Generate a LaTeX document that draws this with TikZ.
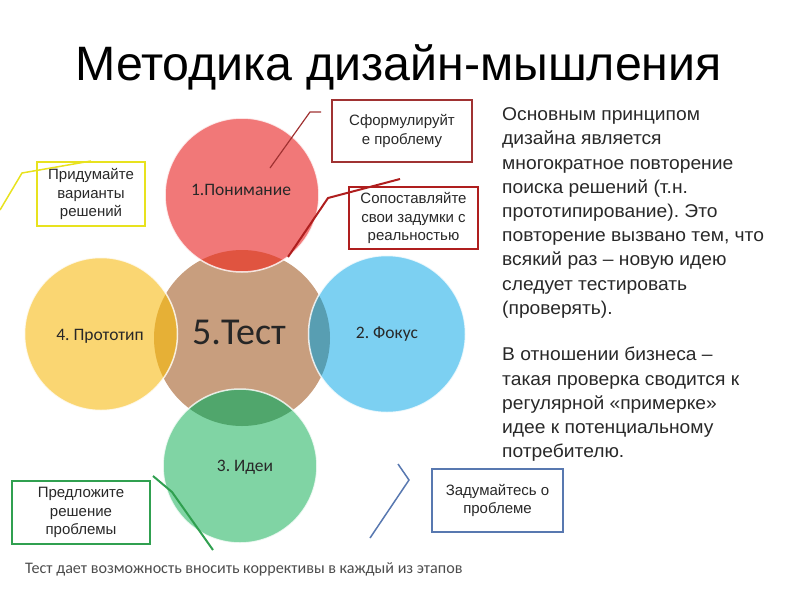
\documentclass[tikz,border=0pt]{standalone}
\usepackage{fontspec}
\setmainfont{Liberation Sans}
\newfontfamily\calib{Carlito}
\newfontfamily\widesans[FakeStretch=1.04]{Liberation Sans}
\frenchspacing
\definecolor{cred}{RGB}{241,120,120}
\definecolor{cbrown}{RGB}{200,158,126}
\definecolor{cblue}{RGB}{124,208,242}
\definecolor{cyellow}{RGB}{250,214,114}
\definecolor{cgreen}{RGB}{128,212,164}
\definecolor{ored}{RGB}{224,84,64}
\definecolor{oblue}{RGB}{88,158,178}
\definecolor{oyellow}{RGB}{230,176,54}
\definecolor{ogreen}{RGB}{80,166,108}
\definecolor{lyellow}{RGB}{232,226,30}
\definecolor{lred}{RGB}{160,50,50}
\definecolor{lred2}{RGB}{175,30,30}
\definecolor{lgreen}{RGB}{48,160,80}
\definecolor{lblue}{RGB}{88,120,176}
\definecolor{txt}{RGB}{40,40,40}
\begin{document}
\begin{tikzpicture}[x=1pt,y=-1pt,
  circ/.style={circle, inner sep=0pt, minimum size=#1, text=txt,
    font=\calib\fontsize{17.5}{21}\selectfont},
  rim/.style={draw=white, draw opacity=0.8, line width=1.5pt},
  note/.style={draw, align=center, inner sep=0pt, text=txt,
    font=\fontsize{15}{18.5}\selectfont},
  link/.style={line width=1.5pt}
]
\useasboundingbox (0,0) rectangle (800,600);
% title
\node[anchor=base, font=\fontsize{48.3}{56}\selectfont] (title) at (398.5,80) {Методика дизайн-мышления};
% circles
\node[circ=176pt, fill=cbrown] (c5) at (242,338) {};
\node[circ=154pt, fill=cred] (c1) at (242,195) {};
\node[circ=157pt, fill=cblue] (c2) at (387,334) {};
\node[circ=153pt, fill=cyellow] (c4) at (101,334) {};
\node[circ=154pt, fill=cgreen] (c3) at (240,466) {};
\begin{scope}
  \clip (c5.center) circle (88pt);
  \fill[ored] (c1.center) circle (77pt);
  \fill[oblue] (c2.center) circle (78.5pt);
  \fill[oyellow] (c4.center) circle (76.5pt);
  \fill[ogreen] (c3.center) circle (77pt);
\end{scope}
\draw[rim] (c1.center) circle (77pt);
\draw[rim] (c2.center) circle (78.5pt);
\draw[rim] (c4.center) circle (76.5pt);
\draw[rim] (c3.center) circle (77pt);
% circle labels
\node[text=txt, font=\calib\fontsize{17.5}{21}\selectfont] (l1) at (241,190) {1.Понимание};
\node[text=txt, font=\calib\fontsize{17.5}{21}\selectfont] (l2) at (387,334) {2. Фокус};
\node[text=txt, font=\calib\fontsize{17.5}{21}\selectfont] (l4) at (100,336) {4. Прототип};
\node[text=txt, font=\calib\fontsize{17.5}{21}\selectfont] (l3) at (245,467) {3. Идеи};
\node[text=black!85, font=\calib\fontsize{38}{44}\selectfont] (l5) at (239,332) {5.Тест};
% boxes
\node[note, draw=lyellow, line width=2pt, minimum width=108pt, minimum height=64pt] (by) at (91,194) {Придумайте\\варианты\\решений};
\node[note, draw=lred, line width=1.5pt, minimum width=140pt, minimum height=62pt] (br1) at (402,131) {Сформулируйт\\е проблему};
\node[note, draw=lred2, line width=2pt, minimum width=129pt, minimum height=62pt] (br2) at (413.5,218) {Сопоставляйте\\свои задумки с\\реальностью};
\node[note, draw=lgreen, line width=2pt, minimum width=138pt, minimum height=63pt] (bg) at (81,512.5) {Предложите\\решение\\проблемы};
\node[note, draw=lblue, line width=1.5pt, minimum width=131pt, minimum height=63pt] (bb) at (497.5,500.5) {Задумайтесь о\\проблеме};
% connectors
\coordinate (y0) at (0,210);
\coordinate (y1) at (22,173);
\draw[link, lyellow] (y0) -- (y1) -- (by.north);
\coordinate (r0) at (270,168);
\coordinate (r1) at (310,112);
\coordinate (r2) at (321,112);
\draw[link, lred, line width=1.2pt] (r0) -- (r1) -- (r2);
\coordinate (s0) at (288,257);
\coordinate (s1) at (328,198);
\coordinate (s2) at (400,179);
\draw[link, lred2, line width=2pt] (s0) -- (s1) -- (s2);
\coordinate (g0) at (153,476);
\coordinate (g1) at (172,492);
\coordinate (g2) at (213,550);
\draw[link, lgreen, line width=2pt] (g0) -- (g1) -- (g2);
\coordinate (b0) at (398,464);
\coordinate (b1) at (409,480);
\coordinate (b2) at (370,538);
\draw[link, lblue] (b0) -- (b1) -- (b2);
% right text
\node[anchor=north west, align=left, inner sep=0pt, text=txt,
  font=\widesans\fontsize{18.5}{24.2}\selectfont] (para) at (502,107.5)
  {Основным принципом\\
   дизайна является\\
   многократное повторение\\
   поиска решений (т.н.\\
   прототипирование). Это\\
   повторение вызвано тем, что\\
   всякий раз – новую идею\\
   следует тестировать\\
   (проверять).\\[22.5pt]
   В отношении бизнеса –\\
   такая проверка сводится к\\
   регулярной «примерке»\\
   идее к потенциальному\\
   потребителю.};
% caption
\node[anchor=base west, inner sep=0pt, text=black!70, font=\calib\fontsize{16.1}{20}\selectfont] (cap) at (25,573) {Тест дает возможность вносить коррективы в каждый из этапов};
\end{tikzpicture}
\end{document}
